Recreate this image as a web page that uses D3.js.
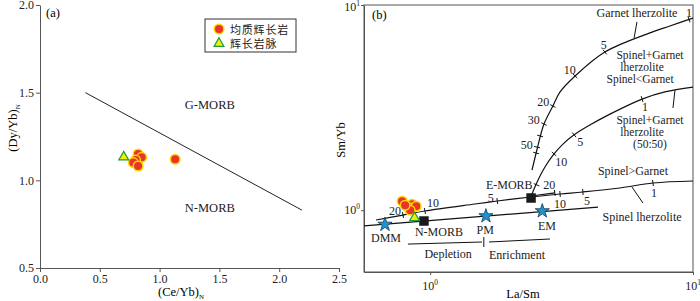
<!DOCTYPE html>
<html>
<head>
<meta charset="utf-8">
<script src="https://cdn.jsdelivr.net/npm/d3@7"></script>
<style>
  body { margin: 0; background: #fff; }
  svg { display: block; font-family: "Liberation Serif", "Times New Roman", serif; }
</style>
</head>
<body>
<svg id="chart" width="700" height="301"></svg>
<script>
// ---- panel (a): (Ce/Yb)N vs (Dy/Yb)N ----
const gabbroA = [[0.82, 1.150], [0.85, 1.131], [0.80, 1.115], [0.78, 1.101], [0.82, 1.082], [1.13, 1.120]];
const dykeA = [[0.70, 1.133]];
const boundaryA = [[0.38, 1.50], [2.19, 0.83]];
const xTicksA = [0, 0.5, 1, 1.5, 2, 2.5];
const yTicksA = [0.5, 1, 1.5, 2];
const regionsA = [
  { text: "G-MORB", x: 1.42, y: 1.405 },
  { text: "N-MORB", x: 1.42, y: 0.822 },
];
const legendNames = ["均质辉长岩", "辉长岩脉"];

// ---- panel (b): La/Sm vs Sm/Yb (log-log) ----
const gabbroB = [[0.782, 1.106], [0.854, 1.069], [0.825, 1.034], [0.885, 1.046], [0.839, 1.0], [0.803, 1.057]];
const dykeB = [[0.872, 0.918]];
const garnetCurve = [[10, 8.64], [8.17, 7.90], [6.86, 7.31], [4.62, 5.90], [3.56, 4.51], [3.12, 3.77],
  [2.93, 3.22], [2.71, 2.63], [2.57, 2.06], [2.53, 1.90], [2.44, 1.57]];
const garnetTicks = [[9.66, 8.5], [4.62, 5.90], [3.56, 4.51], [2.93, 3.22], [2.71, 2.63], [2.62, 2.30], [2.55, 2.03], [2.53, 1.90]];
const mixCurve = [[10, 3.98], [7.82, 3.77], [6.40, 3.48], [4.83, 2.94], [4.05, 2.60], [3.53, 2.33],
  [3.20, 2.10], [2.96, 1.88], [2.73, 1.62], [2.55, 1.37], [2.42, 1.17]];
const mixTicks = [[6.40, 3.48], [3.53, 2.33], [2.96, 1.88], [2.54, 1.33]];
const spinelCurve = [[0.622, 0.896], [0.788, 0.947], [0.955, 0.991], [1.48, 1.072], [1.80, 1.109], [2.42, 1.160],
  [3.12, 1.20], [3.81, 1.227], [5.27, 1.283], [7.04, 1.357], [10, 1.388]];
const spinelTicks = [[0.788, 0.947], [0.955, 0.991], [1.80, 1.109], [3.12, 1.20], [3.81, 1.227], [7.04, 1.357]];
const emorbBranch = [[2.50, 1.18], [2.98, 1.215]];
const mantleArray = [[0.56, 0.838], [4.35, 1.036]];
const leaders = [
  [[6.12, 8.27], [5.97, 6.91]],
  [[8.54, 3.85], [8.39, 3.15]],
  [[5.86, 1.297], [6.45, 1.084]],
];
const depletion = [[0.823, 0.684], [1.574, 0.700]];
const enrichment = [[1.674, 0.700], [2.857, 0.724]];
const divider = [[1.60, 0.740], [1.60, 0.662]];
const sources = [
  { name: "DMM", x: 0.673, y: 0.852 },
  { name: "PM", x: 1.63, y: 0.937 },
  { name: "EM", x: 2.67, y: 0.991 },
];
const morbs = [
  { name: "N-MORB", x: 0.947, y: 0.886 },
  { name: "E-MORB", x: 2.42, y: 1.147 },
];
const labelsB = [
  { text: "Garnet lherzolite", x: 6.12, y: 8.74 },
  { text: "1", x: 9.66, y: 8.74 },
  { text: "5", x: 4.58, y: 6.09 },
  { text: "10", x: 3.40, y: 4.61 },
  { text: "20", x: 2.69, y: 3.22 },
  { text: "30", x: 2.48, y: 2.63 },
  { text: "50", x: 2.33, y: 1.99 },
  { text: "Spinel+Garnet", x: 6.86, y: 5.46, s: 11.5 },
  { text: "lherzolite", x: 6.40, y: 4.77, s: 11.5 },
  { text: "Spinel<Garnet", x: 6.29, y: 4.17, s: 11.5 },
  { text: "1", x: 6.57, y: 3.04 },
  { text: "Spinel+Garnet", x: 6.86, y: 2.63, s: 11.5 },
  { text: "lherzolite", x: 6.40, y: 2.30, s: 11.5 },
  { text: "(50:50)", x: 6.86, y: 2.00, s: 11.5 },
  { text: "5", x: 3.72, y: 2.06 },
  { text: "10", x: 3.15, y: 1.64 },
  { text: "20", x: 2.84, y: 1.27 },
  { text: "Spinel>Garnet", x: 5.91, y: 1.48 },
  { text: "Spinel lherzolite", x: 6.40, y: 0.886 },
  { text: "1", x: 7.11, y: 1.16 },
  { text: "5", x: 3.95, y: 1.06 },
  { text: "10", x: 3.12, y: 1.025 },
  { text: "E-MORB", x: 2.00, y: 1.275 },
  { text: "5", x: 1.70, y: 1.10 },
  { text: "10", x: 1.025, y: 1.036 },
  { text: "20", x: 0.734, y: 0.947 },
  { text: "DMM", x: 0.679, y: 0.700 },
  { text: "N-MORB", x: 1.08, y: 0.749 },
  { text: "PM", x: 1.62, y: 0.766 },
  { text: "EM", x: 2.78, y: 0.801 },
  { text: "Depletion", x: 1.17, y: 0.585 },
  { text: "Enrichment", x: 2.14, y: 0.578 },
];

const RED = "#e8342a", RIM = "#ffd800", TRI = "#f2ef00", TRI_EDGE = "#1f9a3c", STAR = "#1f93d0";
const svg = d3.select("#chart");

// ======== panel (a) ========
const xA = d3.scaleLinear([0, 2.5], [40, 339]);
const yA = d3.scaleLinear([0.5, 2], [268, 5]);
const ga = svg.append("g");

const axA_x = ga.append("g").attr("transform", `translate(0,${yA(0.5)})`)
  .call(d3.axisBottom(xA).tickValues(xTicksA).tickFormat(d3.format(".1f")).tickSize(4).tickSizeOuter(0).tickPadding(2));
const axA_y = ga.append("g").attr("transform", `translate(${xA(0)},0)`)
  .call(d3.axisLeft(yA).tickValues(yTicksA).tickFormat(d3.format(".1f")).tickSize(4).tickSizeOuter(0).tickPadding(2));
[axA_x, axA_y].forEach((ax) => {
  ax.attr("font-family", null).attr("font-size", 12);
  ax.selectAll("path,line").attr("stroke", "#555");
  ax.selectAll("text").attr("fill", "#222");
});

ga.append("path")
  .attr("d", d3.line().x((d) => xA(d[0])).y((d) => yA(d[1]))(boundaryA))
  .attr("stroke", "#222").attr("fill", "none").attr("stroke-width", 1);

ga.selectAll(".region").data(regionsA).join("text")
  .attr("x", (d) => xA(d.x)).attr("y", (d) => yA(d.y))
  .attr("text-anchor", "middle").attr("font-size", 12.5).attr("fill", "#222")
  .text((d) => d.text);

ga.selectAll(".gab").data(gabbroA).join("circle")
  .attr("cx", (d) => xA(d[0])).attr("cy", (d) => yA(d[1])).attr("r", 4.8)
  .attr("fill", RED).attr("stroke", RIM).attr("stroke-width", 1.5);

const tri = d3.symbol(d3.symbolTriangle, 42);
ga.selectAll(".dyke").data(dykeA).join("path")
  .attr("d", tri).attr("transform", (d) => `translate(${xA(d[0])},${yA(d[1])})`)
  .attr("fill", TRI).attr("stroke", TRI_EDGE).attr("stroke-width", 1.2);

ga.append("text").attr("x", 46).attr("y", 17).attr("font-size", 12.5).text("(a)");

// axis titles (a)
const yTitleA = ga.append("text").attr("transform", "translate(17,128) rotate(-90)")
  .attr("text-anchor", "middle").attr("font-size", 12.5);
yTitleA.append("tspan").text("(Dy/Yb)");
yTitleA.append("tspan").attr("font-size", 7).attr("dy", 3).text("N");
const xTitleA = ga.append("text").attr("x", 181).attr("y", 296)
  .attr("text-anchor", "middle").attr("font-size", 12.5);
xTitleA.append("tspan").text("(Ce/Yb)");
xTitleA.append("tspan").attr("font-size", 7).attr("dy", 2.5).text("N");

// legend
const lg = ga.append("g").attr("transform", "translate(205,19)");
lg.append("rect").attr("width", 91).attr("height", 33).attr("fill", "#fff").attr("stroke", "#333").attr("stroke-width", 1);
lg.append("circle").attr("cx", 14).attr("cy", 10).attr("r", 4.8).attr("fill", RED).attr("stroke", RIM).attr("stroke-width", 1.5);
lg.append("path").attr("d", tri).attr("transform", "translate(14,24.5)")
  .attr("fill", TRI).attr("stroke", TRI_EDGE).attr("stroke-width", 1.2);
lg.selectAll(".lt").data(legendNames).join("text")
  .attr("x", 25).attr("y", (d, i) => 14.5 + i * 14)
  .attr("font-family", "'Noto Sans CJK SC', sans-serif").attr("font-size", 11).attr("fill", "#222")
  .attr("letter-spacing", 0.8)
  .text((d) => d);

// ======== panel (b) ========
const xB = d3.scaleLog([0.56, 10], [364, 693]);
const yB = d3.scaleLog([0.5, 10], [272, 5]);
const gb = svg.append("g");

gb.append("clipPath").attr("id", "clipB").append("rect")
  .attr("x", 364).attr("y", 5).attr("width", 329).attr("height", 267);

// ticks and labels
const axB_x = gb.append("g").attr("transform", `translate(0,${yB(0.5)})`)
  .call(d3.axisBottom(xB).tickValues([1, 10]).tickFormat(() => "").tickSize(3).tickSizeOuter(0));
const axB_y = gb.append("g").attr("transform", `translate(${xB(0.56)},0)`)
  .call(d3.axisLeft(yB).tickValues([1, 10]).tickFormat(() => "").tickSize(3).tickSizeOuter(0));
[axB_x, axB_y].forEach((ax) => ax.selectAll("path,line").attr("stroke", "#555"));

function powLabel(g, x, y, exp, anchor) {
  const t = g.append("text").attr("x", x).attr("y", y).attr("text-anchor", anchor).attr("font-size", 12).attr("fill", "#222");
  t.append("tspan").text("10");
  t.append("tspan").attr("font-size", 7.5).attr("dy", -5).text(exp);
}
[1, 10].forEach((v, i) => {
  powLabel(gb, xB(v), 290, String(i), "middle");
  powLabel(gb, 360, Math.max(yB(v) + 4, 11), String(i), "end");
});

gb.append("rect").attr("x", 364).attr("y", 5).attr("width", 329).attr("height", 267)
  .attr("fill", "none").attr("stroke", "#555").attr("stroke-width", 1);

const plot = gb.append("g").attr("clip-path", "url(#clipB)");
const curveLine = d3.line().x((d) => xB(d[0])).y((d) => yB(d[1])).curve(d3.curveCatmullRom);
const straight = d3.line().x((d) => xB(d[0])).y((d) => yB(d[1]));

[garnetCurve, mixCurve, spinelCurve].forEach((c) => {
  plot.append("path").attr("d", curveLine(c)).attr("fill", "none").attr("stroke", "#111").attr("stroke-width", 1.2);
});
[emorbBranch, mantleArray].forEach((c) => {
  plot.append("path").attr("d", straight(c)).attr("fill", "none").attr("stroke", "#111").attr("stroke-width", 1.2);
});
[...leaders, depletion, enrichment, divider].forEach((c) => {
  plot.append("path").attr("d", straight(c)).attr("fill", "none").attr("stroke", "#111").attr("stroke-width", 1);
});

// short ticks across the melting curves
function crossTicks(curve, ticks, len) {
  const pts = curve.map((d) => [xB(d[0]), yB(d[1])]);
  ticks.forEach((t) => {
    const p = [xB(t[0]), yB(t[1])];
    let best = 0, bd = Infinity;
    for (let i = 0; i < pts.length - 1; i++) {
      const mx = (pts[i][0] + pts[i + 1][0]) / 2, my = (pts[i][1] + pts[i + 1][1]) / 2;
      const dd = (mx - p[0]) ** 2 + (my - p[1]) ** 2;
      if (dd < bd) { bd = dd; best = i; }
    }
    const a = pts[best], b = pts[best + 1];
    const L = Math.hypot(b[0] - a[0], b[1] - a[1]);
    const nx = -(b[1] - a[1]) / L, ny = (b[0] - a[0]) / L;
    plot.append("line")
      .attr("x1", p[0] - nx * len).attr("y1", p[1] - ny * len)
      .attr("x2", p[0] + nx * len).attr("y2", p[1] + ny * len)
      .attr("stroke", "#111").attr("stroke-width", 1);
  });
}
crossTicks(garnetCurve, garnetTicks, 3);
crossTicks(mixCurve, mixTicks, 3);
crossTicks(spinelCurve, spinelTicks, 3);
crossTicks(emorbBranch, [emorbBranch[1]], 3);

gb.selectAll(".lb").data(labelsB).join("text")
  .attr("x", (d) => xB(d.x)).attr("y", (d) => yB(d.y))
  .attr("text-anchor", "middle").attr("font-size", (d) => d.s || 12).attr("fill", "#222")
  .text((d) => d.text);

const square = d3.symbol(d3.symbolSquare, 90);
gb.selectAll(".morb").data(morbs).join("path")
  .attr("d", square).attr("transform", (d) => `translate(${xB(d.x)},${yB(d.y)})`)
  .attr("fill", "#1a1a1a");

const star = d3.symbol(d3.symbolStar, 62);
gb.selectAll(".src").data(sources).join("path")
  .attr("d", star).attr("transform", (d) => `translate(${xB(d.x)},${yB(d.y)})`)
  .attr("fill", STAR).attr("stroke", "#123a5a").attr("stroke-width", 0.8);

gb.selectAll(".gabB").data(gabbroB).join("circle")
  .attr("cx", (d) => xB(d[0])).attr("cy", (d) => yB(d[1])).attr("r", 4.8)
  .attr("fill", RED).attr("stroke", RIM).attr("stroke-width", 1.5);
gb.selectAll(".dykeB").data(dykeB).join("path")
  .attr("d", tri).attr("transform", (d) => `translate(${xB(d[0])},${yB(d[1])})`)
  .attr("fill", TRI).attr("stroke", TRI_EDGE).attr("stroke-width", 1.2);

gb.append("text").attr("x", 372).attr("y", 19).attr("font-size", 12.5).text("(b)");
gb.append("text").attr("transform", "translate(345,140) rotate(-90)")
  .attr("text-anchor", "middle").attr("font-size", 12.5).text("Sm/Yb");
gb.append("text").attr("x", 523).attr("y", 298)
  .attr("text-anchor", "middle").attr("font-size", 12.5).text("La/Sm");
</script>
</body>
</html>
